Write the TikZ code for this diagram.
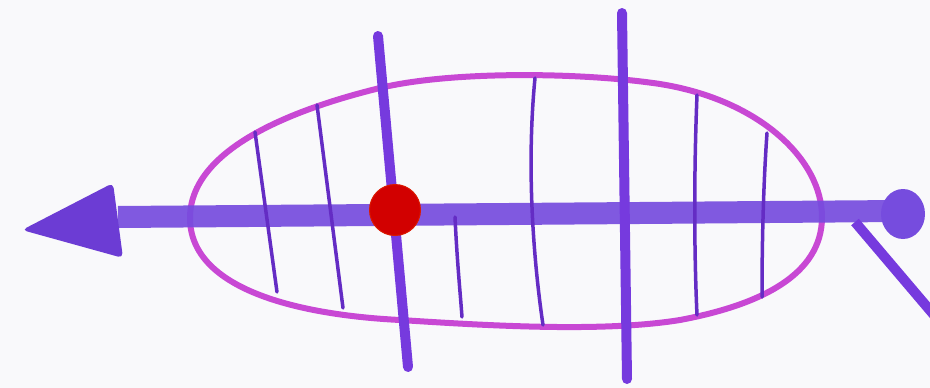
\documentclass[tikz,border=0pt]{standalone}
\usetikzlibrary{calc,shapes.geometric}
\definecolor{bg}{RGB}{249,249,251}
\definecolor{pinkline}{RGB}{200,72,212}
\definecolor{shaftc}{RGB}{118,76,222}
\definecolor{headc}{RGB}{108,60,212}
\definecolor{thickc}{RGB}{118,58,222}
\definecolor{thinc}{RGB}{100,44,196}
\definecolor{dotc}{RGB}{210,0,0}
\tikzset{
  outline/.style={draw=pinkline, line width=6pt, line join=round},
  shaft/.style={draw=shaftc, line width=22pt},
  rib/.style={draw=thinc, line width=3.5pt, line cap=round},
  bar/.style={draw=thickc, line width=10pt, line cap=round},
}
\begin{document}
\begin{tikzpicture}[x=1pt,y=-1pt]
\useasboundingbox (0,0) rectangle (930,388);
\fill[bg] (0,0) rectangle (930,388);
% egg-shaped outline
\draw[outline] (190,218) .. controls (190,150) and (290,110) .. (380,88)
  .. controls (450,71) and (580,72) .. (660,84)
  .. controls (760,100) and (822,160) .. (822,217)
  .. controls (822,275) and (760,305) .. (680,320)
  .. controls (600,333) and (480,325) .. (400,320)
  .. controls (300,315) and (190,290) .. cycle;
% shaft
\coordinate (tail) at (118,217);
\coordinate (head) at (900,211);
\draw[shaft, opacity=0.92] (tail) -- (head);
% ribs
\draw[rib] (255,132) -- (277,292);
\draw[rib] (317,105) -- (343,308);
\draw[rib] (455,217) .. controls (457,260) and (460,290) .. (462,317);
\draw[rib] (535,78) .. controls (527,160) and (532,250) .. (543,325);
\draw[rib] (697,95) .. controls (694,170) and (694,250) .. (697,315);
\draw[rib] (767,133) .. controls (763,190) and (762,250) .. (762,297);
% arrowhead
\fill[headc, rounded corners=5pt] (22,230) -- (113,183) -- (123,258) -- cycle;
% knob at the tail end
\node[ellipse, fill=shaftc, minimum width=44pt, minimum height=50pt, inner sep=0pt] (knob) at (903,214) {};
% diagonal
\coordinate (dstart) at (855,222);
\coordinate (dend) at (945,328);
\draw[draw=thickc, line width=10pt] (dstart) -- (dend);
% thick vertical bars
\draw[bar] (378,36) -- (408,367);
\draw[bar] (622,13) -- (627,379);
% red dot
\node[circle, fill=dotc, draw=dotc!80!orange, line width=1pt, minimum size=51pt, inner sep=0pt] (dot) at (395,210) {};
\end{tikzpicture}
\end{document}
